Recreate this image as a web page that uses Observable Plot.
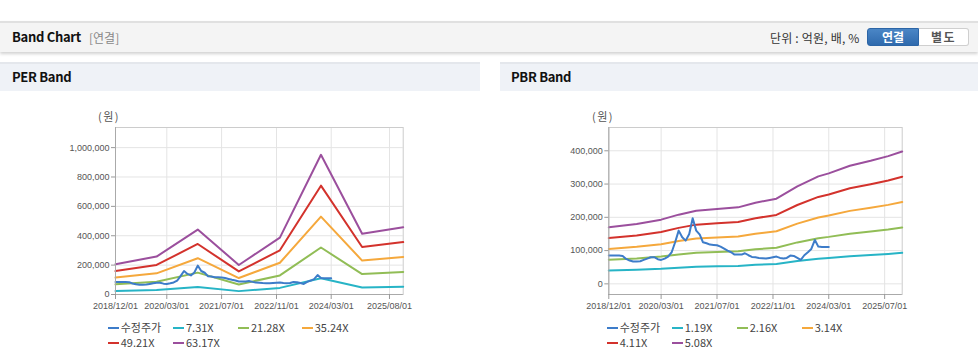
<!DOCTYPE html>
<html><head><meta charset="utf-8">
<script src="https://cdn.jsdelivr.net/npm/d3@7"></script>
<script src="https://cdn.jsdelivr.net/npm/@observablehq/plot@0.6"></script>
<style>
body{margin:0;width:978px;height:361px;position:relative;background:#fff;font-family:"Noto Sans CJK KR","Noto Sans",sans-serif;overflow:hidden}
.abs{position:absolute}
#topbar{left:0;top:21px;width:978px;height:29px;background:#f4f4f4;border-top:2px solid #e0e0e0;box-shadow:0 2px 3px rgba(0,0,0,0.18)}
#title{left:12px;top:29px;font-size:13px;font-weight:700;color:#111;letter-spacing:-0.3px;line-height:16px}
#sub{left:89px;top:30px;font-size:12px;color:#888;line-height:15px}
#unit{left:770px;top:30px;font-size:12px;color:#333;line-height:15px;letter-spacing:0.2px}
#btn1{left:867px;top:28px;width:52px;height:18px;background:linear-gradient(#4a86c6,#2f6aad);border:1px solid #2c65a6;border-radius:3px 0 0 3px;box-sizing:border-box;color:#fff;font-size:12px;font-weight:700;text-align:center;line-height:16px}
#btn2{left:919px;top:28px;width:50px;height:18px;background:#fff;border:1px solid #cfcfcf;border-left:none;border-radius:0 3px 3px 0;box-sizing:border-box;color:#555;font-size:12px;font-weight:700;text-align:center;line-height:16px;letter-spacing:1.5px}
.sec{top:62px;height:29px;background:#eff2f7;border-top:2px solid #e4e7ec;box-sizing:border-box}
.sectitle{font-size:13px;font-weight:700;color:#111;top:69px;line-height:16px;letter-spacing:-0.3px}
.unitlab{font-size:11px;color:#555;top:109px;line-height:14px;letter-spacing:1.5px}
.leg{font-size:11px;color:#444;line-height:13px;white-space:nowrap}
.leg span.sw{display:inline-block;width:11px;height:2px;vertical-align:middle;margin-right:2px;position:relative;top:-1px}
</style></head>
<body>
<div id="topbar" class="abs"></div>
<div id="title" class="abs">Band Chart</div>
<div id="sub" class="abs">[연결]</div>
<div id="unit" class="abs">단위 : 억원, 배, %</div>
<div id="btn1" class="abs">연결</div>
<div id="btn2" class="abs">별도</div>
<div class="abs sec" style="left:0;width:480px"></div>
<div class="abs sec" style="left:500px;width:478px"></div>
<div class="abs sectitle" style="left:12px">PER Band</div>
<div class="abs sectitle" style="left:511px">PBR Band</div>
<div class="abs unitlab" style="left:98px">(원)</div>
<div class="abs unitlab" style="left:592px">(원)</div>
<div id="perChart" class="abs" style="left:0;top:100px"></div>
<div id="pbrChart" class="abs" style="left:500px;top:100px"></div>
<script>
// ---------- data ----------
const priceStart = "2018-12-01"; // monthly adjusted price 2018/12 .. 2024/03
const price = [85000,85000,85000,85000,84000,75000,70000,67000,67000,68000,72000,76000,
  80000,80000,74000,72000,76000,82000,95000,125000,160000,140000,130000,150000,
  197000,160000,148000,125000,122000,118000,117000,116000,112000,106000,100000,95000,
  88000,88000,88000,92000,86000,81000,80000,78000,77000,76000,78000,80000,
  82000,78000,76000,78000,85000,84000,78000,72000,86000,95000,105000,132000,
  112000,111000,111000,111000];

const perDates = ["2018-12-01","2019-12-01","2020-12-01","2021-12-01","2022-12-01","2023-12-01","2024-12-01","2025-12-01"];
const per731  = [24000,30000,51000,23000,45000,110000,48000,53000];
const per2128 = [69000,87000,149000,68000,130000,320000,139000,154000];
const per3524 = [115000,144000,247000,112000,216000,530000,231000,255000];
const per4921 = [160000,201000,344000,157000,301000,741000,323000,357000];
const per6317 = [206000,258000,442000,201000,387000,951000,414000,458000];
const perNames = ["수정주가","7.31X","21.28X","35.24X","49.21X","63.17X"];

const pbrDates = ["2018-12-01","2019-08-01","2020-03-01","2020-08-01","2021-01-01","2021-07-01","2022-01-01","2022-06-01",
  "2022-12-01","2023-06-01","2023-12-01","2024-03-01","2024-09-01","2025-03-01","2025-08-01","2025-12-01"];
const pbr119 = [39800,42200,45200,48700,51500,52700,53900,57200,60000,68600,75700,77800,83200,86700,90000,93200];
const pbr216 = [72300,76500,82100,88400,93500,95700,97800,103700,108800,124600,137300,141200,150900,157300,163300,169200];
const pbr314 = [105100,111300,119300,128600,136000,139100,142200,150800,158200,181100,199600,205200,219400,228700,237400,246000];
const pbr411 = [137500,145600,156100,168300,178000,182000,186100,197400,207100,237100,261300,268600,287200,299300,310700,322000];
const pbr508 = [170000,180000,193000,208000,220000,225000,230000,244000,256000,293000,323000,332000,355000,370000,384000,398000];
const pbrNames = ["수정주가","1.19X","2.16X","3.14X","4.11X","5.08X"];

const colors = ["#3d7cc9","#27b4c6","#91bd56","#f5a83c","#d3322c","#9b4f9d"];
const perXTicks = ["2018-12-01","2020-03-01","2021-07-01","2022-11-01","2024-03-01","2025-08-01"];
const pbrXTicks = ["2018-12-01","2020-03-01","2021-07-01","2022-11-01","2024-03-01","2025-07-01"];
const perYTicks = [0,200000,400000,600000,800000,1000000];
const pbrYTicks = [0,100000,200000,300000,400000];
const xDomainStr = ["2018-12-01","2025-12-01"];

// ---------- build ----------
const D = s => new Date(s + "T00:00:00Z");
const start = D(priceStart);
const priceData = price.map((v,i)=>({date: d3.utcMonth.offset(start,i), v}));

function makeChart(dates, bands, xTicks, yTicks, yDomain, opts){
  const ds = dates.map(D);
  const marks = [
    Plot.gridY(yTicks, {stroke:"#e4e4e4", strokeOpacity:1}),
    Plot.gridX(xTicks.map(D), {stroke:"#e4e4e4", strokeOpacity:1}),
    Plot.frame({stroke:"#cccccc"}),
  ];
  bands.forEach((b,k)=>{
    marks.push(Plot.line(b.map((v,i)=>({date:ds[i], v})), {x:"date", y:"v", stroke:colors[k+1], strokeWidth:2}));
  });
  marks.push(Plot.line(priceData, {x:"date", y:"v", stroke:colors[0], strokeWidth:2}));
  marks.push(Plot.ruleX([D(xDomainStr[0])], {stroke:"#aaa"}));
  marks.push(Plot.ruleY([yDomain[0]], {stroke:"#aaa"}));
  marks.push(Plot.axisY(yTicks, {tickFormat:d3.format(","), tickSize:4, tickPadding:2, stroke:"#999", label:null}));
  marks.push(Plot.axisX(xTicks.map(D), {tickFormat:d3.utcFormat("%Y/%m/%d"), tickSize:5, tickPadding:3, stroke:"#999", label:null}));
  return Plot.plot({
    width: opts.width, height: 215,
    marginLeft: opts.ml, marginRight: opts.mr, marginTop: 27, marginBottom: 21,
    x: {type:"utc", domain: xDomainStr.map(D)},
    y: {domain: yDomain},
    style: {fontSize:"9px", color:"#555", fontFamily:"'Liberation Sans', Arial, sans-serif", background:"transparent", overflow:"visible"},
    marks
  });
}

document.getElementById("perChart").appendChild(
  makeChart(perDates, [per731, per2128, per3524, per4921, per6317], perXTicks, perYTicks, [0,1137000], {width:480, ml:115, mr:77.3}));
document.getElementById("pbrChart").appendChild(
  makeChart(pbrDates, [pbr119, pbr216, pbr314, pbr411, pbr508], pbrXTicks, pbrYTicks, [-32000,470000], {width:478, ml:108.3, mr:76.3}));

function legend(names, xs, ys){
  names.forEach((n,i)=>{
    const d = document.createElement("div");
    d.className = "abs leg";
    d.style.left = xs[i % 4] + "px";
    d.style.top = (ys[Math.floor(i/4)] - 7) + "px";
    d.innerHTML = `<span class="sw" style="background:${colors[i]}"></span>${n}`;
    document.body.appendChild(d);
  });
}
legend(perNames, [107.7,173,238,301.7], [328.3,342.7]);
legend(pbrNames, [606.7,671.7,736.7,801.7], [328.3,342.7]);
</script>
</body></html>
